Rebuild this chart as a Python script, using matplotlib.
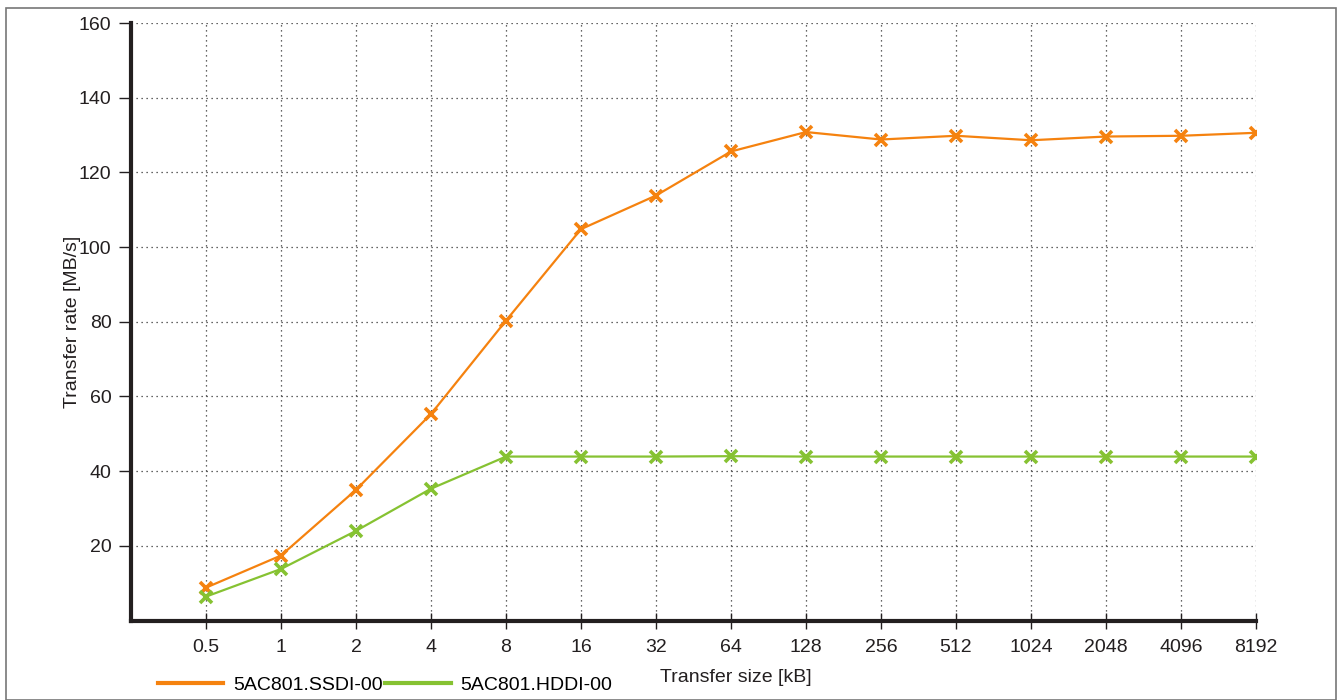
import matplotlib.pyplot as plt
from matplotlib.patches import Rectangle
from matplotlib.lines import Line2D

plt.rcParams['font.family'] = ['Liberation Sans', 'DejaVu Sans']

sizes = ['0.5', '1', '2', '4', '8', '16', '32', '64', '128', '256',
         '512', '1024', '2048', '4096', '8192']
ssdi = [8.8, 17.4, 35.0, 55.3, 80.3, 104.8, 113.8, 125.6, 130.8, 128.8,
        129.8, 128.6, 129.6, 129.8, 130.6]
hddi = [6.4, 13.8, 24.0, 35.3, 43.9, 43.9, 43.9, 44.0, 43.9, 43.9,
        43.9, 43.9, 43.9, 43.9, 43.9]
names = ['5AC801.SSDI-00', '5AC801.HDDI-00']
orange = '#f5820f'
green = '#86c232'
fs = 14

fig = plt.figure(figsize=(13.38, 7.0), dpi=100)
ax = fig.add_axes([131/1338, 1-620.5/700, (1256-131)/1338, (620.5-23)/700])

x = list(range(len(sizes)))
ax.plot(x, ssdi, color=orange, lw=1.6, marker='x', ms=9, mew=2.6)
ax.plot(x, hddi, color=green, lw=1.6, marker='x', ms=9, mew=2.6)

ax.set_xlim(-1, 14)
ax.set_ylim(0, 160)
ax.set_xticks(x)
ax.set_xticklabels(sizes)
ax.set_yticks([20, 40, 60, 80, 100, 120, 140, 160])
ax.grid(True, linestyle=(0, (1, 3)), color='#333333', lw=0.9)

for s in ['top', 'right']:
    ax.spines[s].set_visible(False)
for s in ['left', 'bottom']:
    ax.spines[s].set_linewidth(3)
    ax.spines[s].set_color('#231f20')
ax.tick_params(axis='y', direction='out', length=9, width=1, labelsize=fs, pad=5, colors='#231f20')
ax.tick_params(axis='x', direction='inout', length=12, width=1, labelsize=fs, pad=7, colors='#231f20')

ax.set_xlabel('Transfer size [kB]', fontsize=fs, color='#231f20')
ax.set_ylabel('Transfer rate [MB/s]', fontsize=fs, color='#231f20')
ax.xaxis.set_label_coords((736-131)/(1256-131), -(669-620.5)/597.5)
ax.yaxis.set_label_coords(-(131-81)/(1256-131), 0.5)

handles = [Line2D([], [], color=orange, lw=3), Line2D([], [], color=green, lw=3)]
fig.legend(handles, names, loc='center left', bbox_to_anchor=(158/1338, 1-685/700), ncol=2,
           frameon=False, fontsize=fs, handlelength=3.35, columnspacing=0.15,
           handletextpad=0.5, borderaxespad=0, borderpad=0)

fig.patches.append(Rectangle((6/1338, 0), 1330/1338, 692/700, transform=fig.transFigure,
                             fill=False, edgecolor='#777777', lw=1.2))

fig.savefig('out.png', dpi=100)
